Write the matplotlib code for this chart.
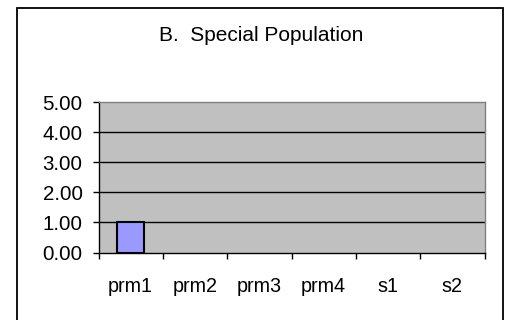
import numpy as np
import matplotlib
matplotlib.use("Agg")
import matplotlib.pyplot as plt
from matplotlib.patches import Rectangle
from matplotlib.ticker import FixedLocator, FormatStrFormatter

plt.rcParams['font.family'] = ['Liberation Sans', 'DejaVu Sans']

title = "B.  Special Population"
categories = ["prm1", "prm2", "prm3", "prm4", "s1", "s2"]
values = [1.00, None, None, None, None, None]
y_ticks = [0, 1, 2, 3, 4, 5]

W, H = 505, 320
fig = plt.figure(figsize=(W / 100, H / 100), dpi=100)
fig.patch.set_facecolor("white")

# outer chart border (open at the bottom edge of the image)
frame = Rectangle((16.5 / W, -0.05), (502.7 - 16.5) / W, 1.05 - 8 / H,
                  transform=fig.transFigure, fill=False,
                  edgecolor="black", linewidth=1.3, zorder=0)
fig.patches.append(frame)

left, right, top, bottom = 98.5, 484.5, 102, 252.5
ax = fig.add_axes([left / W, 1 - bottom / H, (right - left) / W, (bottom - top) / H])
ax.set_facecolor("#C0C0C0")

x = np.arange(len(categories)) + 0.5
heights = np.array([np.nan if v is None else v for v in values], dtype=float)
ax.bar(x, heights, width=0.42, color="#9999FF", edgecolor="black",
       linewidth=1.5, zorder=3)

ax.set_xlim(0, len(categories))
ax.set_ylim(y_ticks[0], y_ticks[-1])

for v in y_ticks[1:-1]:
    ax.axhline(v, color="black", linewidth=1.0, zorder=2)

ax.yaxis.set_major_locator(FixedLocator(y_ticks))
ax.yaxis.set_major_formatter(FormatStrFormatter("%.2f"))
ax.tick_params(axis="y", direction="out", length=4.5, width=1.0,
               color="black", pad=7, labelsize=14.8)

ax.xaxis.set_major_locator(FixedLocator(np.arange(len(categories) + 1)))
ax.xaxis.set_minor_locator(FixedLocator(x))
ax.set_xticklabels([], minor=False)
ax.set_xticklabels(categories, minor=True)
ax.tick_params(axis="x", which="major", direction="out", length=4.5,
               width=1.0, color="black")
ax.tick_params(axis="x", which="minor", length=0, pad=18, labelsize=14.2)

for side in ("top", "right"):
    ax.spines[side].set_color("#808080")
    ax.spines[side].set_linewidth(1.0)
for side in ("left", "bottom"):
    ax.spines[side].set_color("black")
    ax.spines[side].set_linewidth(1.0)

fig.text(261.5 / W, 1 - 41 / H, title, ha="center", va="baseline",
         fontsize=15, color="black")

fig.savefig("out.png", dpi=100)
